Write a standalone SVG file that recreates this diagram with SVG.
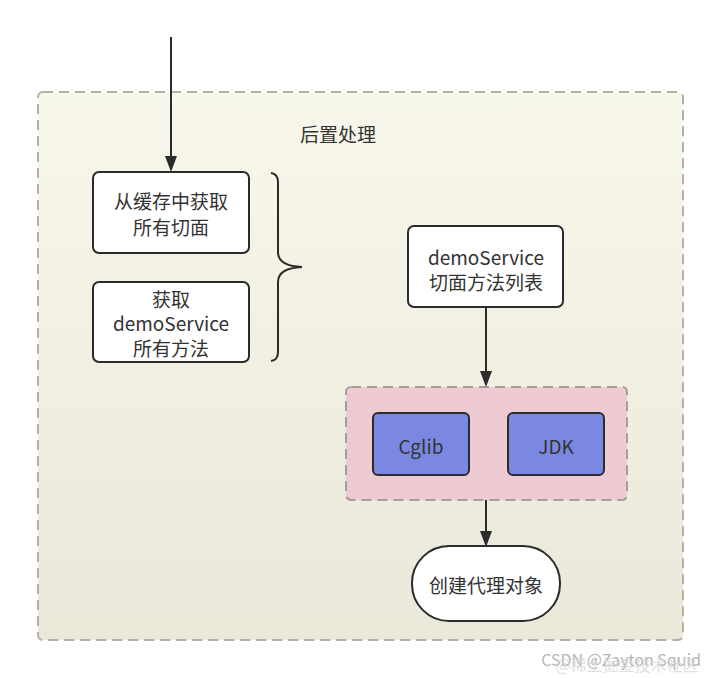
<svg xmlns="http://www.w3.org/2000/svg" width="720" height="678" viewBox="0 0 720 678">
<defs>
<linearGradient id="bg" x1="0" y1="0" x2="0" y2="1">
<stop offset="0" stop-color="#f8f7eb"/>
<stop offset="1" stop-color="#eae8d9"/>
</linearGradient>
<marker id="arr" markerWidth="12" markerHeight="16" refX="6" refY="16" orient="auto-start-reverse" markerUnits="userSpaceOnUse" viewBox="0 0 12 16">
<path d="M0,0 L12,0 L6,16 Z" fill="#2b2b2b" transform="rotate(0)"/>
</marker>
<style>
text{font-family:"Noto Sans CJK SC","Noto Sans",sans-serif;font-size:19px;fill:#333;text-anchor:middle;dominant-baseline:central}
.box{fill:#fff;stroke:#2b2b2b;stroke-width:2}
.blue{fill:#7a88e2;stroke:#2b2b2b;stroke-width:2}
.conn{stroke:#2b2b2b;stroke-width:2;fill:none}
</style>
</defs>
<rect width="720" height="678" fill="#fff"/>
<g id="container">
<rect x="38" y="92" width="645" height="548" rx="5" fill="url(#bg)" stroke="#b3b1a6" stroke-width="2" stroke-dasharray="10,6"/>
<text x="338" y="133">后置处理</text>
</g>
<g id="group-proxy">
<rect x="346" y="387" width="281" height="113" rx="5" fill="#eecbd2" stroke="#a99c9c" stroke-width="2" stroke-dasharray="10,6"/>
</g>
<g id="connectors">
<line class="conn" x1="171" y1="37" x2="171" y2="156"/>
<path d="M165,156 L177,156 L171,172 Z" fill="#2b2b2b"/>
<line class="conn" x1="486" y1="307" x2="486" y2="371"/>
<path d="M480,371 L492,371 L486,387 Z" fill="#2b2b2b"/>
<line class="conn" x1="486" y1="500" x2="486" y2="531"/>
<path d="M480,531 L492,531 L486,547 Z" fill="#2b2b2b"/>
</g>
<g id="node-cache">
<rect class="box" x="93" y="172" width="156" height="81" rx="6"/>
<text x="171" y="200">从缓存中获取</text>
<text x="171" y="226">所有切面</text>
</g>
<g id="node-methods">
<rect class="box" x="93" y="282" width="156" height="80" rx="6"/>
<text x="171" y="298">获取</text>
<text x="171" y="322">demoService</text>
<text x="171" y="347">所有方法</text>
</g>
<g id="brace">
<path class="conn" d="M271,173 Q278,174 278,182 L278,252 Q278,266 302,267 Q278,268 278,282 L278,352 Q278,360 271,361"/>
</g>
<g id="node-list">
<rect class="box" x="408" y="226" width="155" height="81" rx="6"/>
<text x="486" y="256">demoService</text>
<text x="486" y="281">切面方法列表</text>
</g>
<g id="node-cglib">
<rect class="blue" x="373" y="413" width="96" height="62" rx="5"/>
<text x="421" y="445">Cglib</text>
</g>
<g id="node-jdk">
<rect class="blue" x="508" y="413" width="96" height="62" rx="5"/>
<text x="556" y="445">JDK</text>
</g>
<g id="node-create">
<rect class="box" x="412" y="546" width="148" height="75" rx="37"/>
<text x="486" y="584">创建代理对象</text>
</g>
<g id="watermark">
<text x="621" y="659" style="font-size:16px;fill:#b5b5b5">CSDN @Zayton Squid</text>
<text x="627" y="664" style="font-size:16px;fill:#d8d8d8;opacity:0.8">@稀土掘金技术社区</text>
</g>
</svg>
